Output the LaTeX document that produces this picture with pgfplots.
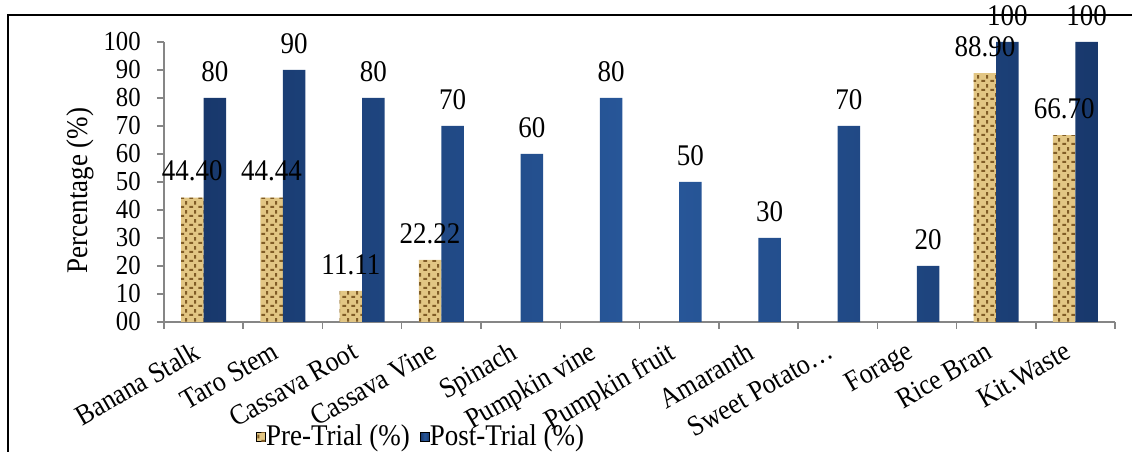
\documentclass[border=0pt]{standalone}
\usepackage{fontspec}
\setmainfont{Liberation Serif}[FakeStretch=0.9]
\usepackage{pgfplots}
\pgfplotsset{compat=1.18}
\usetikzlibrary{patterns}

\definecolor{postblue}{RGB}{40,88,155}
\definecolor{postdark}{RGB}{24,56,108}
\definecolor{pretan}{RGB}{226,198,132}
\definecolor{prebrown}{RGB}{128,92,38}
\definecolor{axisgray}{RGB}{134,134,134}

% small basket-weave texture for the pre-trial bars
\pgfdeclarepatternformonly{weave}{\pgfqpoint{0pt}{0pt}}{\pgfqpoint{3.6pt}{3.6pt}}{\pgfqpoint{3.6pt}{3.6pt}}{%
  \pgfsetlinewidth{0.9pt}%
  \pgfpathmoveto{\pgfqpoint{0.2pt}{0.9pt}}\pgfpathlineto{\pgfqpoint{1.8pt}{0.9pt}}%
  \pgfpathmoveto{\pgfqpoint{2.7pt}{1.9pt}}\pgfpathlineto{\pgfqpoint{2.7pt}{3.5pt}}%
  \pgfusepath{stroke}}

\begin{document}
\begin{tikzpicture}
% outer frame of the chart area
\draw[line width=0.8pt] (-62.4pt,-70pt) -- (-62.4pt,122.8pt) -- (420pt,122.8pt);
\begin{axis}[
  at={(0,0)}, anchor=south west,
  scale only axis, width=380.4pt, height=112pt,
  ybar=0pt, bar width=9pt,
  xmin=-0.5, xmax=11.5, ymin=0, ymax=100,
  clip=false,
  axis x line*=bottom, axis y line*=left,
  axis line style={axisgray, line width=0.6pt},
  tick align=outside, major tick length=2.8pt,
  every tick/.style={axisgray, line width=0.6pt},
  xtick={0,...,11},
  xticklabels={Banana Stalk, Taro Stem, Cassava Root, Cassava Vine, Spinach,
    Pumpkin vine, Pumpkin fruit, Amaranth, Sweet Potato…, Forage, Rice Bran, Kit.Waste},
  major x tick style={draw=none},
  extra x ticks={-0.5,0.5,...,11.5},
  extra x tick labels={},
  extra x tick style={major x tick style={draw=axisgray, line width=0.6pt}},
  xticklabel style={rotate=30, anchor=north east, xshift=-3pt, yshift=2pt,
    font=\fontsize{11.5}{13}\selectfont},
  ytick={0,10,...,100},
  yticklabels={00,10,20,30,40,50,60,70,80,90,100},
  yticklabel style={font=\fontsize{11}{13}\selectfont, xshift=-3pt},
  /pgf/number format/assume math mode=true,
  ylabel={Percentage (\%)},
  ylabel style={at={(axis description cs:-0.088,0.47)}, anchor=center,
    font=\fontsize{12}{14}\selectfont},
  nodes near coords,
  every node near coord/.append style={font=\fontsize{12}{14}\selectfont, yshift=3pt, text=black},
  legend style={at={(axis description cs:0.272,-0.41)}, anchor=center, draw=none,
    fill=none, legend columns=2, font=\fontsize{12}{14}\selectfont,
    /tikz/every odd column/.append style={column sep=-2pt},
    /tikz/every even column/.append style={column sep=2pt}},
  legend image code/.code={\draw[#1] (0pt,-1.8pt) rectangle (3.6pt,1.8pt);},
]
\addplot[fill=pretan, draw=none,
  postaction={pattern=weave, pattern color=prebrown},
  nodes near coords={\pgfmathprintnumber[fixed,fixed zerofill,precision=2]{\pgfplotspointmeta}}]
  coordinates {(0,44.40) (1,44.44) (2,11.11) (3,22.22) (10,88.90) (11,66.70)};
\addplot[draw=none, left color=postdark, right color=postdark, middle color=postblue,
  nodes near coords={\pgfmathprintnumber[fixed,precision=0]{\pgfplotspointmeta}}]
  coordinates {(0,80) (1,90) (2,80) (3,70) (4,60) (5,80) (6,50) (7,30) (8,70) (9,20) (10,100) (11,100)};
\legend{Pre-Trial (\%), Post-Trial (\%)}
\end{axis}
\pgfresetboundingbox
\useasboundingbox (-65.6pt,-52pt) rectangle (387.2pt,128.8pt);
\end{tikzpicture}
\end{document}
